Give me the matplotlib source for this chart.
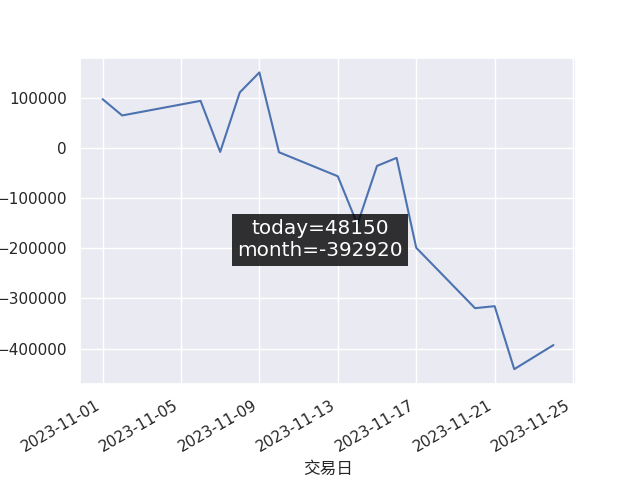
import matplotlib
matplotlib.use("Agg")
import matplotlib.dates as mdates
import matplotlib.pyplot as plt
import pandas as pd
import seaborn as sns

dates = [
    "2023-11-01", "2023-11-02", "2023-11-06", "2023-11-07", "2023-11-08",
    "2023-11-09", "2023-11-10", "2023-11-13", "2023-11-14", "2023-11-15",
    "2023-11-16", "2023-11-17", "2023-11-20", "2023-11-21", "2023-11-22",
    "2023-11-24",
]
values = [
    98000, 65400, 94600, -7400, 111400,
    151300, -8000, -56000, -152000, -35300,
    -19300, -198700, -319300, -315300, -441070,
    -392920,
]
today = 48150
month = -392920
xlabel = "交易日"

sns.set_theme()
plt.rcParams["font.family"] = ["DejaVu Sans", "Noto Sans CJK SC"]

fig, ax = plt.subplots(figsize=(6.4, 4.8), dpi=100)
ax.plot(pd.to_datetime(dates), values)
ax.xaxis.set_major_locator(mdates.DayLocator(bymonthday=[1, 5, 9, 13, 17, 21, 25, 29]))
ax.xaxis.set_major_formatter(mdates.DateFormatter("%Y-%m-%d"))
ax.set_xlabel(xlabel)
fig.autofmt_xdate()

# summary box in the middle of the figure
fig.text(
    0.5, 0.5, f"today={today}\nmonth={month}",
    ha="center", va="center", fontsize="large", color="white",
    bbox=dict(facecolor="black", alpha=0.8, edgecolor="none", pad=4),
)

fig.savefig("out.png")
